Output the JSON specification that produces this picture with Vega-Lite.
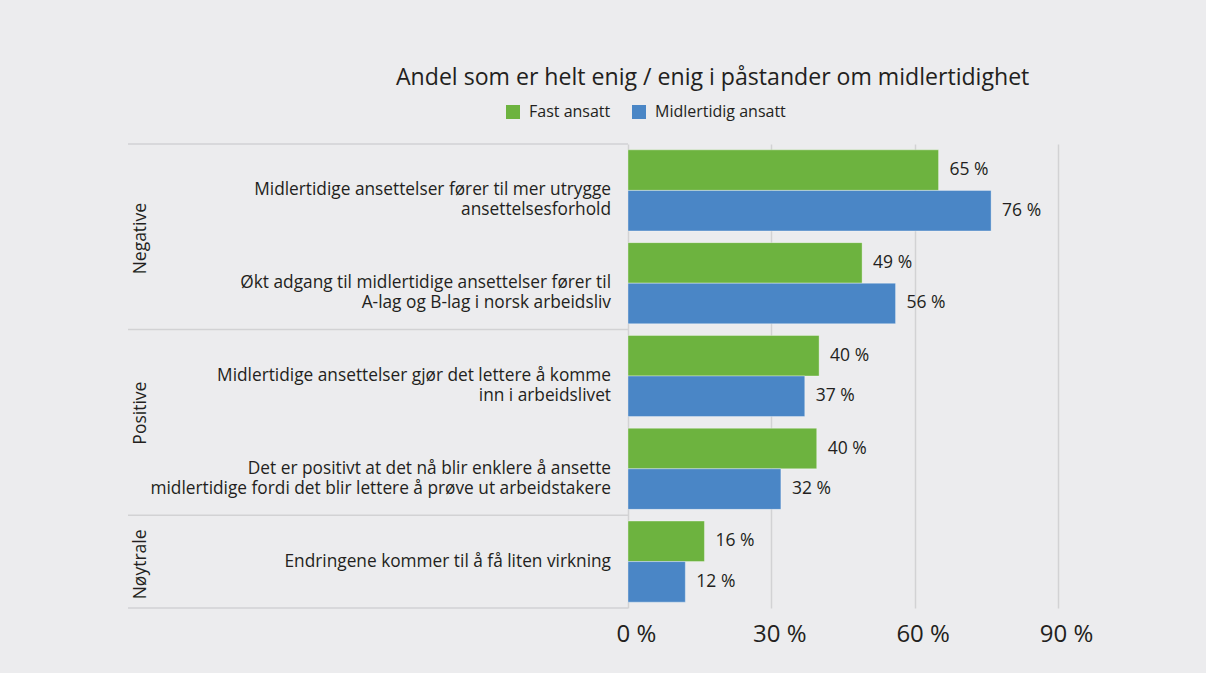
{
  "$schema": "https://vega.github.io/schema/vega-lite/v6.json",
  "background": "#ececee",
  "padding": {"left": 127, "top": 66, "right": 136, "bottom": 27},
  "bounds": "flush",
  "title": {
    "text": "Andel som er helt enig / enig i påstander om midlertidighet",
    "fontSize": 23.1, "font": "Open Sans", "fontWeight": "normal", "color": "#231f20",
    "anchor": "start", "frame": "group", "dx": 268, "offset": 14
  },
  "datasets": {
    "items": [
      {"id": "q1", "group": "Negative", "label": "Midlertidige ansettelser fører til mer utrygge|ansettelsesforhold"},
      {"id": "q2", "group": "Negative", "label": "Økt adgang til midlertidige ansettelser fører til|A-lag og B-lag i norsk arbeidsliv"},
      {"id": "q3", "group": "Positive", "label": "Midlertidige ansettelser gjør det lettere å komme|inn i arbeidslivet"},
      {"id": "q4", "group": "Positive", "label": "Det er positivt at det nå blir enklere å ansette|midlertidige fordi det blir lettere å prøve ut arbeidstakere"},
      {"id": "q5", "group": "Nøytrale", "label": "Endringene kommer til å få liten virkning"}
    ],
    "groups": [
      {"group": "Negative", "first": "q1", "last": "q2", "mid": "q2"},
      {"group": "Positive", "first": "q3", "last": "q4", "mid": "q3"},
      {"group": "Nøytrale", "first": "q5", "last": "q5", "mid": "q5"}
    ],
    "values": [
      {"id": "q1", "series": "Fast ansatt", "value": 65, "text": "65 %"},
      {"id": "q1", "series": "Midlertidig ansatt", "value": 76, "text": "76 %"},
      {"id": "q2", "series": "Fast ansatt", "value": 49, "text": "49 %"},
      {"id": "q2", "series": "Midlertidig ansatt", "value": 56, "text": "56 %"},
      {"id": "q3", "series": "Fast ansatt", "value": 40, "text": "40 %"},
      {"id": "q3", "series": "Midlertidig ansatt", "value": 37, "text": "37 %"},
      {"id": "q4", "series": "Fast ansatt", "value": 39.5, "text": "40 %"},
      {"id": "q4", "series": "Midlertidig ansatt", "value": 32, "text": "32 %"},
      {"id": "q5", "series": "Fast ansatt", "value": 16, "text": "16 %"},
      {"id": "q5", "series": "Midlertidig ansatt", "value": 12, "text": "12 %"}
    ]
  },
  "spacing": 0,
  "resolve": {"scale": {"y": "shared"}},
  "hconcat": [
    {
      "width": 500,
      "height": 464,
      "layer": [
        {
          "data": {"name": "groups"},
          "mark": {"type": "rule", "color": "#d2d2d4", "strokeWidth": 1.5},
          "encoding": {
            "y": {"field": "first", "type": "nominal", "bandPosition": 0,
                  "scale": {"domain": ["q1", "q2", "q3", "q4", "q5"], "paddingInner": 0, "paddingOuter": 0}, "axis": null},
            "x": {"datum": 0, "type": "quantitative", "scale": {"domain": [0, 1], "nice": false}, "axis": null},
            "x2": {"datum": 1}
          }
        },
        {
          "data": {"name": "groups"},
          "transform": [{"filter": "datum.group === 'Nøytrale'"}],
          "mark": {"type": "rule", "color": "#d2d2d4", "strokeWidth": 1.5},
          "encoding": {
            "y": {"field": "last", "type": "nominal", "bandPosition": 1, "axis": null},
            "x": {"datum": 0, "type": "quantitative"},
            "x2": {"datum": 1}
          }
        },
        {
          "data": {"name": "items"},
          "mark": {"type": "text", "align": "right", "baseline": "middle", "lineBreak": "|",
                   "fontSize": 17.3, "lineHeight": 20, "font": "Open Sans", "color": "#231f20"},
          "encoding": {
            "y": {"field": "id", "type": "nominal", "axis": null},
            "x": {"datum": 0.966, "type": "quantitative"},
            "text": {"field": "label"}
          }
        },
        {
          "data": {"name": "groups"},
          "transform": [{"filter": "datum.group === 'Negative'"}],
          "mark": {"type": "text", "align": "center", "baseline": "middle", "angle": 270,
                   "fontSize": 17.5, "font": "Open Sans", "color": "#231f20"},
          "encoding": {
            "y": {"field": "mid", "type": "nominal", "bandPosition": 0.02, "axis": null},
            "x": {"datum": 0.026, "type": "quantitative"},
            "text": {"field": "group"}
          }
        },
        {
          "data": {"name": "groups"},
          "transform": [{"filter": "datum.group === 'Positive'"}],
          "mark": {"type": "text", "align": "center", "baseline": "middle", "angle": 270,
                   "fontSize": 17.5, "font": "Open Sans", "color": "#231f20"},
          "encoding": {
            "y": {"field": "mid", "type": "nominal", "bandPosition": 0.9, "axis": null},
            "x": {"datum": 0.026, "type": "quantitative"},
            "text": {"field": "group"}
          }
        },
        {
          "data": {"name": "groups"},
          "transform": [{"filter": "datum.group === 'Nøytrale'"}],
          "mark": {"type": "text", "align": "center", "baseline": "middle", "angle": 270,
                   "fontSize": 17.5, "font": "Open Sans", "color": "#231f20"},
          "encoding": {
            "y": {"field": "mid", "type": "nominal", "bandPosition": 0.53, "axis": null},
            "x": {"datum": 0.026, "type": "quantitative"},
            "text": {"field": "group"}
          }
        }
      ]
    },
    {
      "data": {"name": "values"},
      "width": 430,
      "height": 464,
      "encoding": {
        "y": {"field": "id", "type": "nominal", "axis": null,
              "scale": {"domain": ["q1", "q2", "q3", "q4", "q5"], "paddingInner": 0, "paddingOuter": 0}},
        "yOffset": {"field": "series", "type": "nominal",
                    "scale": {"domain": ["Fast ansatt", "Midlertidig ansatt"], "paddingOuter": 0.144, "paddingInner": 0}},
        "x": {"field": "value", "type": "quantitative",
              "scale": {"domain": [0, 90], "nice": false},
              "axis": {"values": [0, 30, 60, 90], "labelExpr": "datum.value + ' %'", "grid": true,
                       "gridColor": "#d2d2d4", "gridWidth": 1.5, "domain": false, "ticks": false,
                       "labelFlush": false, "labelOffset": 8,
                       "labelFontSize": 24, "labelFont": "Open Sans", "labelColor": "#231f20",
                       "labelPadding": 14, "title": null}}
      },
      "layer": [
        {
          "mark": {"type": "bar", "stroke": "#ffffff", "strokeOpacity": 0.35, "strokeWidth": 1},
          "encoding": {
            "color": {"field": "series", "type": "nominal",
                      "scale": {"domain": ["Fast ansatt", "Midlertidig ansatt"], "range": ["#6db33f", "#4a86c6"]},
                      "legend": {"orient": "none", "legendX": 377, "legendY": -40, "direction": "horizontal",
                                 "title": null, "symbolType": "square", "symbolSize": 196,
                                 "symbolStrokeWidth": 0, "labelFontSize": 16, "labelFont": "Open Sans",
                                 "labelColor": "#231f20", "columnPadding": 20, "labelOffset": 8}}
          }
        },
        {
          "mark": {"type": "text", "align": "left", "baseline": "middle", "dx": 11,
                   "fontSize": 17.5, "font": "Open Sans", "color": "#231f20"},
          "encoding": {"text": {"field": "text"}}
        }
      ]
    }
  ],
  "config": {"view": {"stroke": null}, "font": "Open Sans"}
}
